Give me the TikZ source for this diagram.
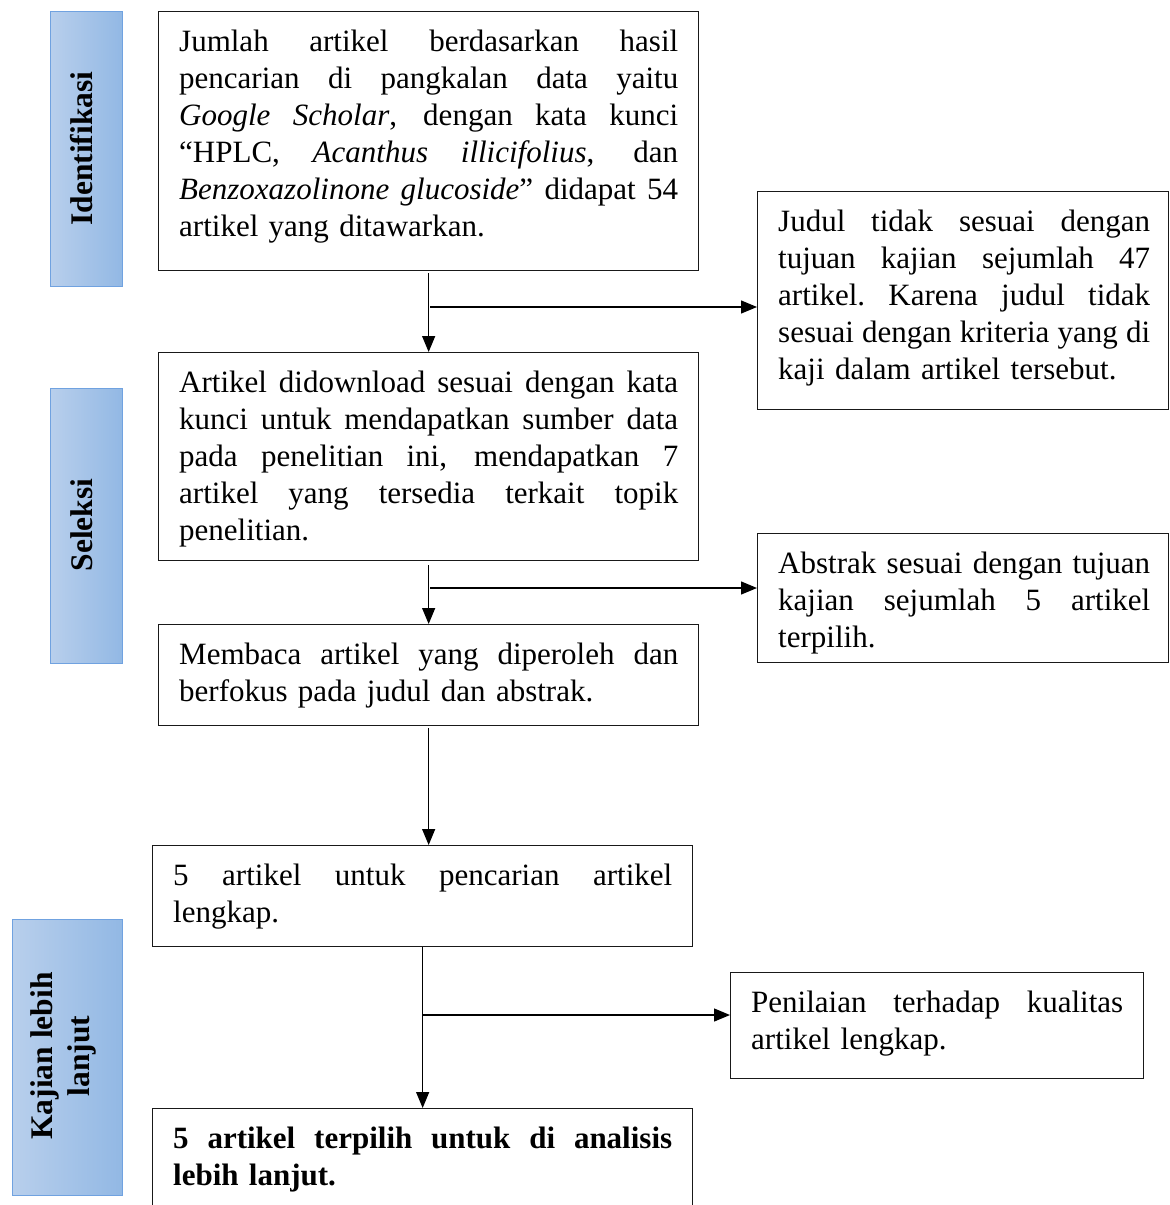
\documentclass[tikz,border=0pt]{standalone}
\usepackage{fontspec}
\setmainfont{Liberation Serif}
\usetikzlibrary{arrows.meta}

\definecolor{barlight}{RGB}{184,207,236}
\definecolor{bardark}{RGB}{146,184,228}
\definecolor{barline}{RGB}{112,162,224}

% width of the justified lines in the current box
\newcommand\jw{499pt}
% a fully justified line of a box text: interword spaces stretch to fill it
\newcommand\jl[1]{\noindent\hbox to \jw{\spaceskip=\fontdimen2\font plus 1fil\relax
  \xspaceskip=\spaceskip #1}}
% strut fixing the height of the first line
\newcommand\fst{\rule{0pt}{26pt}}

\begin{document}
\begin{tikzpicture}[x=1pt,y=-1pt,
  box/.style={draw=black!90, line width=1.3pt, rectangle, anchor=north west, inner sep=0pt},
  txt/.style={anchor=north west, inner sep=0pt, align=left, font=\fontsize{31}{37}\selectfont},
  bar/.style={draw=barline, line width=1.3pt, left color=barlight, right color=bardark,
              anchor=north west, inner sep=0pt},
  bartxt/.style={rotate=90, inner sep=0pt, font=\fontsize{31.5}{37}\selectfont\bfseries},
  flow/.style={line width=1.3pt, -{Triangle[length=16pt,width=13pt]}}]

\useasboundingbox (0,0) rectangle (1170,1205);

% stage bars on the left
\node[bar, minimum width=72pt, minimum height=275pt] (s1) at (50,11) {};
\node[bar, minimum width=72pt, minimum height=275pt] (s2) at (50,388) {};
\node[bar, minimum width=110pt, minimum height=276pt] (s3) at (12,919) {};
\node[bartxt, anchor=base] (l1) at (92,148.5) {Identifikasi};
\node[bartxt, anchor=base] (l2) at (92,525) {Seleksi};
\node[bartxt, anchor=center, align=center] (l3) at (63.5,1056) {Kajian lebih\\lanjut};

% main column of boxes
\node[box, minimum width=540pt, minimum height=259pt] (b1) at (158,11) {};
\node[txt, text width=499pt] (t1) at (179,25) {%
  \jl{\fst Jumlah artikel berdasarkan hasil}\\
  \jl{pencarian di pangkalan data yaitu}\\
  \jl{\textit{Google Scholar}, dengan kata kunci}\\
  \jl{“HPLC, \textit{Acanthus illicifolius}, dan}\\
  \jl{\textit{Benzoxazolinone glucoside}” didapat 54}\\
  artikel yang ditawarkan.};

\node[box, minimum width=540pt, minimum height=208pt] (b3) at (158,352) {};
\node[txt, text width=499pt] (t3) at (179,366) {%
  \jl{\fst Artikel didownload sesuai dengan kata}\\
  \jl{kunci untuk mendapatkan sumber data}\\
  \jl{pada penelitian ini, mendapatkan 7}\\
  \jl{artikel yang tersedia terkait topik}\\
  penelitian.};

\node[box, minimum width=540pt, minimum height=101pt] (b5) at (158,624) {};
\node[txt, text width=499pt] (t5) at (179,638) {%
  \jl{\fst Membaca artikel yang diperoleh dan}\\
  berfokus pada judul dan abstrak.};

\node[box, minimum width=540pt, minimum height=101pt] (b6) at (152,845) {};
\node[txt, text width=499pt] (t6) at (173,859) {%
  \jl{\fst 5 artikel untuk pencarian artikel}\\
  lengkap.};

\node[box, minimum width=540pt, minimum height=120pt] (b8) at (152,1108) {};
\node[txt, text width=499pt, font=\fontsize{31}{37}\selectfont\bfseries] (t8) at (173,1122) {%
  \jl{\fst 5 artikel terpilih untuk di analisis}\\
  lebih lanjut.};

% side boxes
\node[box, minimum width=411pt, minimum height=218pt] (b2) at (757,191) {};
\node[txt, text width=372pt] (t2) at (778,205) {\renewcommand\jw{372pt}%
  \jl{\fst Judul tidak sesuai dengan}\\
  \jl{tujuan kajian sejumlah 47}\\
  \jl{artikel. Karena judul tidak}\\
  \jl{sesuai dengan kriteria yang di}\\
  kaji dalam artikel tersebut.};

\node[box, minimum width=411pt, minimum height=129pt] (b4) at (757,533) {};
\node[txt, text width=372pt] (t4) at (778,547) {\renewcommand\jw{372pt}%
  \jl{\fst Abstrak sesuai dengan tujuan}\\
  \jl{kajian sejumlah 5 artikel}\\
  terpilih.};

\node[box, minimum width=413pt, minimum height=106pt] (b7) at (730,972) {};
\node[txt, text width=372pt] (t7) at (751,986) {\renewcommand\jw{372pt}%
  \jl{\fst Penilaian terhadap kualitas}\\
  artikel lengkap.};

% connectors
\draw[flow, shorten <=2pt] (b1.south) -- (b3.north);
\coordinate (j1) at (430,307);
\draw[flow] (j1) -- (j1 -| b2.west);

\draw[flow, shorten <=4pt] (b3.south) -- (b5.north);
\coordinate (j2) at (430,588);
\draw[flow] (j2) -- (j2 -| b4.west);

\draw[flow, shorten <=2pt] (b5.south) -- (b5.south |- b6.north);

\draw[flow] (b6.south) -- (b8.north);
\coordinate (j3) at (422,1015);
\draw[flow] (j3) -- (j3 -| b7.west);

\end{tikzpicture}
\end{document}
